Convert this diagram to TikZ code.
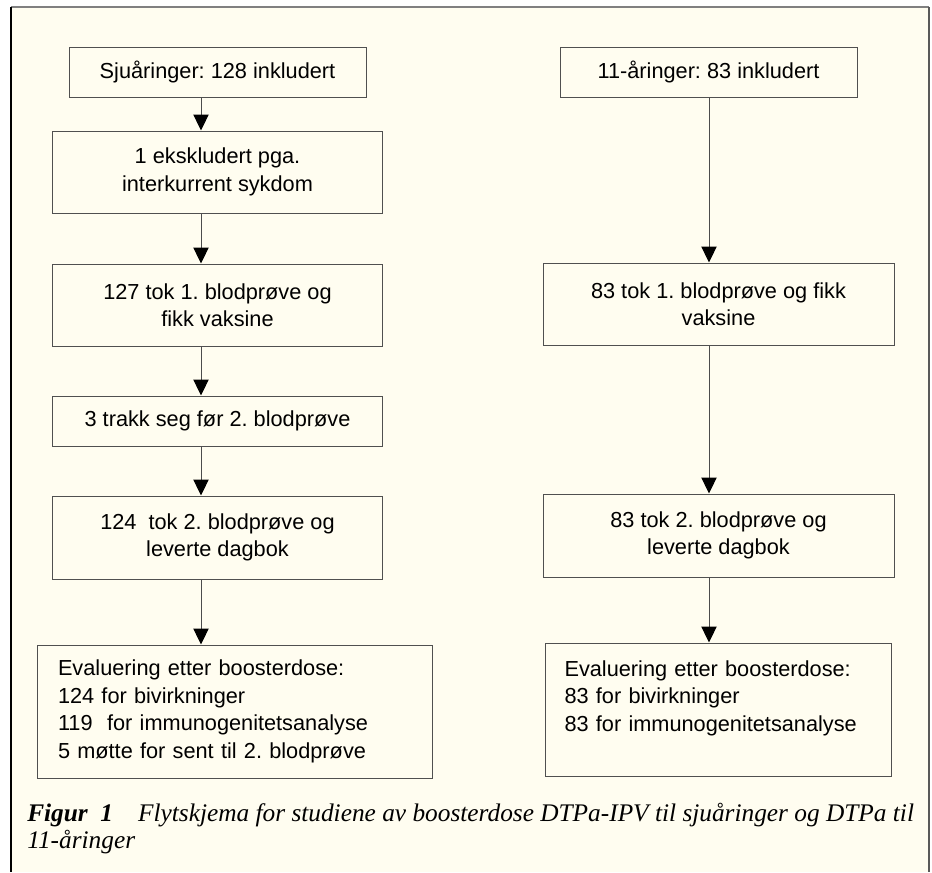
\documentclass[tikz,border=0pt]{standalone}
\usepackage{fontspec}
\setmainfont{Liberation Sans}
\newfontfamily\capfont{Liberation Serif}
\usetikzlibrary{arrows.meta,positioning}
\definecolor{paper}{HTML}{FFFDF0}
\definecolor{edge}{HTML}{505050}
\frenchspacing

\begin{document}
\begin{tikzpicture}[
  x=0.75pt, y=-0.75pt,
  box/.style={rectangle, draw=edge, line width=0.75pt, align=center,
              inner sep=0pt, font=\fontsize{16.3}{20.6}\selectfont},
  listbox/.style={box, align=left, minimum height=99.75pt},
  arrow/.style={-{Triangle[length=12pt, width=11.5pt, color=black]},
                draw=black!70, line width=0.75pt}
]
\useasboundingbox (0,0) rectangle (932,872);

% frame
\fill[paper] (11,7) rectangle (929,872);
\draw[gray, line width=1.5pt] (11,7) -- (929,7);
\draw[black, line width=0.9pt] (11,7) -- (11,872);
\draw[black!65, line width=2pt] (929,7) -- (929,872);

\coordinate (colL) at (201,0);
\coordinate (colR) at (709,0);

% seven-year-olds
\node[box, minimum width=222.75pt, minimum height=37.5pt] (sju) at (217.5,72) {Sjuåringer: 128 inkludert};
\node[box, minimum width=247.5pt, minimum height=61.5pt, below=24.75pt of sju]    (ekskl)  {1 ekskludert pga.\\interkurrent sykdom};
\node[box, minimum width=247.5pt, minimum height=61.5pt, below=37.5pt of ekskl]   (prove1) {127 tok 1. blodprøve og\\fikk vaksine};
\node[box, minimum width=247.5pt, minimum height=37.5pt, below=36.75pt of prove1] (trakk)  {3 trakk seg før 2. blodprøve};
\node[box, minimum width=247.5pt, minimum height=62.25pt, below=36.75pt of trakk] (prove2) {124~ tok 2. blodprøve og\\leverte dagbok};
\node[listbox, text width=264.75pt, inner xsep=15.75pt, below=48.75pt of prove2, xshift=12.75pt] (evalL)
  {Evaluering etter boosterdose:\\124 for bivirkninger\\119~ for immunogenitetsanalyse\\5 møtte for sent til 2. blodprøve};

% eleven-year-olds
\node[box, minimum width=222.75pt, minimum height=37.5pt] (elleve) at (708.5,72) {11-åringer: 83 inkludert};
\node[box, minimum width=263.25pt, minimum height=61.5pt, below=123.75pt of elleve, xshift=7.5pt] (prove1R) {83 tok 1. blodprøve og fikk\\vaksine};
\node[box, minimum width=263.25pt, minimum height=62.25pt, below=111pt of prove1R] (prove2R) {83 tok 2. blodprøve og\\leverte dagbok};
\node[listbox, text width=231pt, inner xsep=14.25pt, below=48.75pt of prove2R] (evalR)
  {Evaluering etter boosterdose:\\83 for bivirkninger\\83 for immunogenitetsanalyse\\\mbox{}};

% arrows
\draw[arrow] (sju.south -| colL)    -- (ekskl.north -| colL);
\draw[arrow] (ekskl.south -| colL)  -- (prove1.north -| colL);
\draw[arrow] (prove1.south -| colL) -- (trakk.north -| colL);
\draw[arrow] (trakk.south -| colL)  -- (prove2.north -| colL);
\draw[arrow] (prove2.south -| colL) -- (evalL.north -| colL);

\draw[arrow] (elleve.south -| colR)  -- (prove1R.north -| colR);
\draw[arrow] (prove1R.south -| colR) -- (prove2R.north -| colR);
\draw[arrow] (prove2R.south -| colR) -- (evalR.north -| colR);

% caption
\node[anchor=north west, align=left, inner sep=0pt,
      font=\capfont\itshape\fontsize{19}{20.5}\selectfont] (caption) at (27,803)
  {\textbf{Figur~~1}\hspace{18.75pt}Flytskjema for studiene av boosterdose DTPa-IPV til sjuåringer og DTPa til\\11-åringer};
\end{tikzpicture}
\end{document}
